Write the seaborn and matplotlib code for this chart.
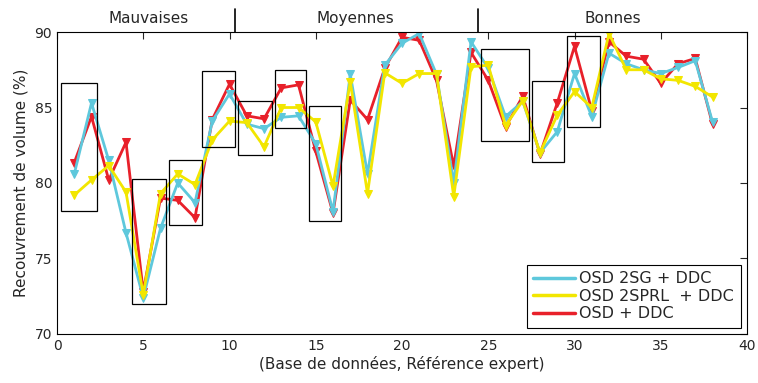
import numpy as np
import pandas as pd
import seaborn as sns
import matplotlib.pyplot as plt
import matplotlib.transforms as mtransforms
from matplotlib.patches import Rectangle

bases = list(range(1, 39))

osd_2sg = [80.6, 85.3, 81.5, 76.7, 72.4, 77.0, 80.0, 78.7, 84.1, 85.9,
           83.9, 83.6, 84.35, 84.45, 82.6, 78.1, 87.2, 80.6, 87.8, 89.25,
           89.9, 87.2, 80.0, 89.35, 87.6, 84.4, 85.4, 82.0, 83.4, 87.25,
           84.4, 88.6, 87.9, 87.5, 87.25, 87.65, 88.1, 84.05]
osd_2sprl = [79.2, 80.2, 81.15, 79.4, 72.6, 79.3, 80.6, 79.9, 82.85, 84.1,
             84.0, 82.4, 85.0, 85.0, 84.05, 79.8, 86.7, 79.3, 87.3, 86.6,
             87.25, 87.25, 79.1, 87.7, 87.8, 83.8, 85.45, 82.0, 84.5, 86.05,
             85.0, 89.9, 87.5, 87.5, 86.9, 86.8, 86.4, 85.7]
osd = [81.35, 84.4, 80.2, 82.7, 72.8, 79.0, 78.85, 77.7, 84.2, 86.55,
       84.45, 84.25, 86.3, 86.5, 82.1, 78.0, 85.5, 84.2, 87.6, 89.65,
       89.45, 86.8, 81.1, 88.65, 86.8, 83.7, 85.75, 81.9, 85.3, 89.05,
       84.8, 89.35, 88.4, 88.2, 86.6, 87.9, 88.25, 83.9]

labels = ["OSD 2SG + DDC", "OSD 2SPRL  + DDC", "OSD + DDC"]
colors = ["#5ec8dc", "#f2e600", "#e8202a"]

# boxes around cases: (x0, x1, y0, y1)
boxes = [(0.23, 2.34, 78.17, 86.6), (4.37, 6.34, 71.97, 80.28),
         (6.49, 8.41, 77.2, 81.5), (8.41, 10.3, 82.38, 87.44),
         (10.51, 12.48, 81.87, 85.41), (12.66, 14.45, 83.62, 87.48),
         (14.61, 16.46, 77.5, 85.08), (24.6, 27.38, 82.76, 88.85),
         (27.54, 29.39, 81.4, 86.75), (29.55, 31.5, 83.69, 89.74)]

groups = ["Mauvaises", "Moyennes", "Bonnes"]
group_centers = [5.3, 17.3, 32.2]
separators = [10.3, 24.4]

df = pd.DataFrame({"x": bases * 3,
                   "val": osd_2sg + osd_2sprl + osd,
                   "method": [labels[0]] * 38 + [labels[1]] * 38 + [labels[2]] * 38})

sns.set_style("white")
plt.rcParams['font.family'] = ['DejaVu Sans']

fig = plt.figure(figsize=(7.58, 3.83), dpi=100)
ax = fig.add_axes([0.0752, 0.128, 0.9103, 0.7884])

handles = {}
for i in [2, 0, 1]:
    sub = df[df["method"] == labels[i]]
    sns.lineplot(data=sub, x="x", y="val", color=colors[i], marker="v",
                 markersize=6, markeredgecolor=colors[i], linewidth=2,
                 ax=ax, label=labels[i])
    handles[i] = ax.lines[-1]

for (x0, x1, y0, y1) in boxes:
    ax.add_patch(Rectangle((x0, y0), x1 - x0, y1 - y0, fill=False,
                           edgecolor="black", linewidth=0.9, zorder=5))

ax.set_xlim(0, 40)
ax.set_ylim(70, 90)
ax.set_xticks(range(0, 41, 5))
ax.set_yticks(range(70, 91, 5))
ax.tick_params(direction="in", top=True, right=True, length=5, labelsize=10)
for s in ax.spines.values():
    s.set_color("black")
    s.set_linewidth(0.8)

ax.set_xlabel("(Base de données, Référence expert)", fontsize=11, labelpad=2)
ax.set_ylabel("Recouvrement de volume (%)", fontsize=11, labelpad=4)

trans = mtransforms.blended_transform_factory(ax.transData, ax.transAxes)
for sx in separators:
    ax.plot([sx, sx], [1.0, 1.075], color="black", linewidth=1.2,
            transform=trans, clip_on=False)
for g, cx in zip(groups, group_centers):
    ax.text(cx, 1.045, g, transform=trans, ha="center", va="center", fontsize=11)

leg = ax.legend([handles[0], handles[1], handles[2]], labels, loc="lower right",
                fontsize=11.5, frameon=True, fancybox=False, framealpha=1,
                edgecolor="black", borderaxespad=0.4, handlelength=2.6,
                handletextpad=0.3, labelspacing=0.15, borderpad=0.4)
for h in leg.legend_handles:
    h.set_marker("")
    h.set_linewidth(2.5)
leg.get_frame().set_linewidth(0.8)

fig.savefig("out.png", dpi=100)
